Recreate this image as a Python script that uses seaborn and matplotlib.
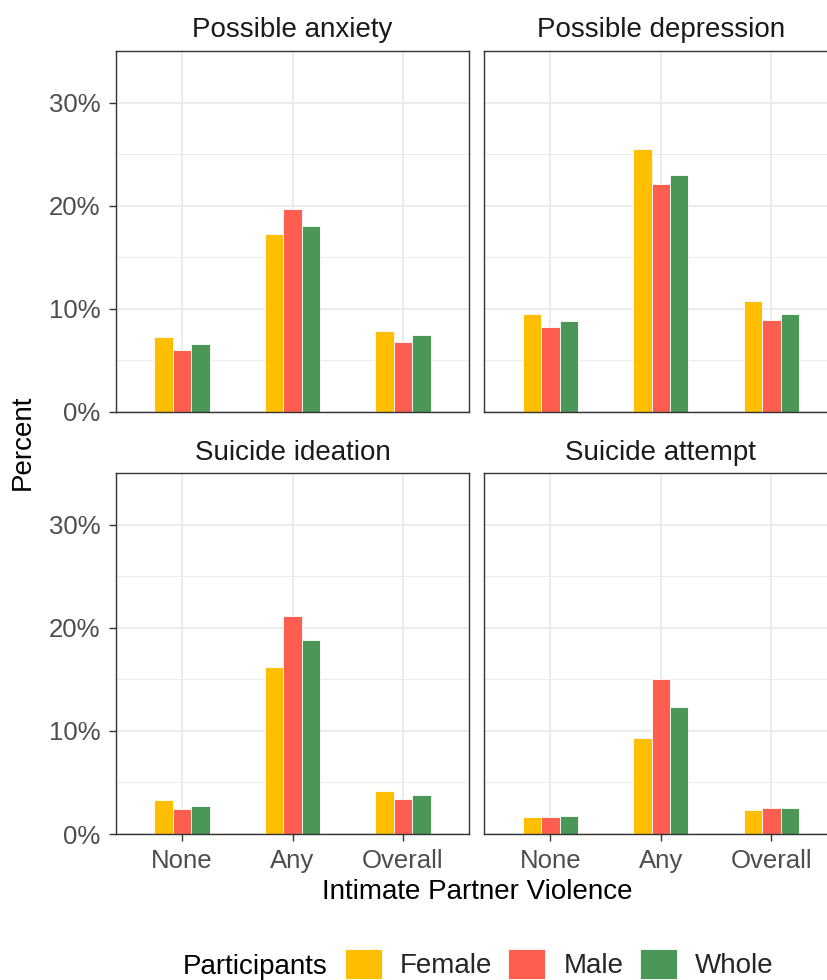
import matplotlib
matplotlib.use("Agg")
import matplotlib.pyplot as plt
from matplotlib.ticker import MultipleLocator, PercentFormatter
import seaborn as sns
import pandas as pd

# ---- data (percent) ----
outcomes = ["Possible anxiety", "Possible depression", "Suicide ideation", "Suicide attempt"]
ipv_levels = ["None", "Any", "Overall"]
participants = ["Female", "Male", "Whole"]

anxiety_female = [7.2, 17.2, 7.8]
anxiety_male = [6.0, 19.7, 6.8]
anxiety_whole = [6.6, 18.0, 7.4]

depression_female = [9.5, 25.5, 10.7]
depression_male = [8.2, 22.1, 8.9]
depression_whole = [8.8, 23.0, 9.5]

ideation_female = [3.3, 16.2, 4.2]
ideation_male = [2.4, 21.2, 3.4]
ideation_whole = [2.7, 18.8, 3.8]

attempt_female = [1.65, 9.3, 2.3]
attempt_male = [1.65, 15.0, 2.5]
attempt_whole = [1.75, 12.3, 2.5]

palette = {"Female": "#FFBE00", "Male": "#FD5E4F", "Whole": "#4A9757"}

series = {
    "Possible anxiety": [anxiety_female, anxiety_male, anxiety_whole],
    "Possible depression": [depression_female, depression_male, depression_whole],
    "Suicide ideation": [ideation_female, ideation_male, ideation_whole],
    "Suicide attempt": [attempt_female, attempt_male, attempt_whole],
}

rows = []
for outcome in outcomes:
    for who, vals in zip(participants, series[outcome]):
        for level, v in zip(ipv_levels, vals):
            rows.append({"Outcome": outcome, "IPV": level, "Participants": who, "Percent": v})
df = pd.DataFrame(rows)

# ---- style ----
sns.set_style("white")
plt.rcParams["font.family"] = ["Liberation Sans", "DejaVu Sans"]

W, H = 828, 980
fig = plt.figure(figsize=(W / 100, H / 100), dpi=100)

left_x, right_x = 115.7, 484.0
panel_w = 353.6
x_lo, x_hi = -0.6, 2.6
# the right-hand column is cut at the canvas edge: shorten its width and x-range together
right_w = W - right_x
right_hi = x_lo + (x_hi - x_lo) * right_w / panel_w
top_rows = [(51.0, 411.7), (473.3, 834.0)]


def px_rect(x0, y_top, y_bot, width):
    return [x0 / W, 1 - y_bot / H, width / W, (y_bot - y_top) / H]


positions = [
    px_rect(left_x, *top_rows[0], panel_w),
    px_rect(right_x, *top_rows[0], right_w),
    px_rect(left_x, *top_rows[1], panel_w),
    px_rect(right_x, *top_rows[1], right_w),
]

tick_color = "#4D4D4D"
border_color = "#333333"
handles = labels = None

for i, (outcome, rect) in enumerate(zip(outcomes, positions)):
    is_left = i % 2 == 0
    is_bottom = i >= 2

    ax = fig.add_axes(rect)
    sub = df[df["Outcome"] == outcome]
    sns.barplot(
        data=sub, x="IPV", y="Percent", hue="Participants",
        order=ipv_levels, hue_order=participants, palette=palette,
        saturation=1, width=0.5, edgecolor="white", linewidth=0.6,
        errorbar=None, ax=ax,
    )
    if handles is None:
        handles, labels = ax.get_legend_handles_labels()
    if ax.get_legend() is not None:
        ax.get_legend().remove()

    ax.set_xlim(x_lo, x_hi if is_left else right_hi)
    ax.set_ylim(0, 35)
    ax.set_yticks([0, 10, 20, 30])
    ax.yaxis.set_minor_locator(MultipleLocator(5))
    ax.yaxis.set_major_formatter(PercentFormatter(decimals=0))
    ax.set_axisbelow(True)
    ax.grid(which="major", axis="both", color="#EBEBEB", linewidth=1.4)
    ax.grid(which="minor", axis="y", color="#EBEBEB", linewidth=0.7)
    ax.set_xlabel("")
    ax.set_ylabel("")

    for name, sp in ax.spines.items():
        sp.set_visible(True)
        sp.set_color(border_color)
        sp.set_linewidth(1.0)
    if not is_left:
        ax.spines["right"].set_visible(False)

    ax.tick_params(axis="both", which="major", length=5, width=1.0, color=border_color,
                   labelsize=18.5, labelcolor=tick_color, pad=6)
    ax.tick_params(axis="y", which="minor", length=0)
    ax.tick_params(axis="y", left=is_left, labelleft=is_left)
    ax.tick_params(axis="x", bottom=is_bottom, labelbottom=is_bottom)

    # facet strip title, centred over the full (uncut) panel width
    cx = (rect[0] * W + panel_w / 2 - rect[0] * W) / (rect[2] * W)
    ax.text(cx, 1 + 13.7 / (rect[3] * H), outcome, transform=ax.transAxes,
            ha="center", va="baseline", fontsize=20, color="#1A1A1A")

# axis titles
fig.text(477 / W, 1 - 899 / H, "Intimate Partner Violence", ha="center", va="baseline",
         fontsize=20, color="black")
fig.text(23 / W, 1 - 442 / H, "Percent", rotation=90, ha="center", va="center",
         fontsize=20, color="black")

# legend
fig.text(183 / W, 1 - 974 / H, "Participants", ha="left", va="baseline",
         fontsize=20, color="black")
fig.legend(handles, labels, loc="center left", bbox_to_anchor=(345 / W, 1 - 964 / H),
           ncol=3, frameon=False, fontsize=20, handlelength=1.33, handleheight=1.33,
           handletextpad=0.65, columnspacing=0.58, borderpad=0, borderaxespad=0)

fig.savefig("out.png", dpi=100)
